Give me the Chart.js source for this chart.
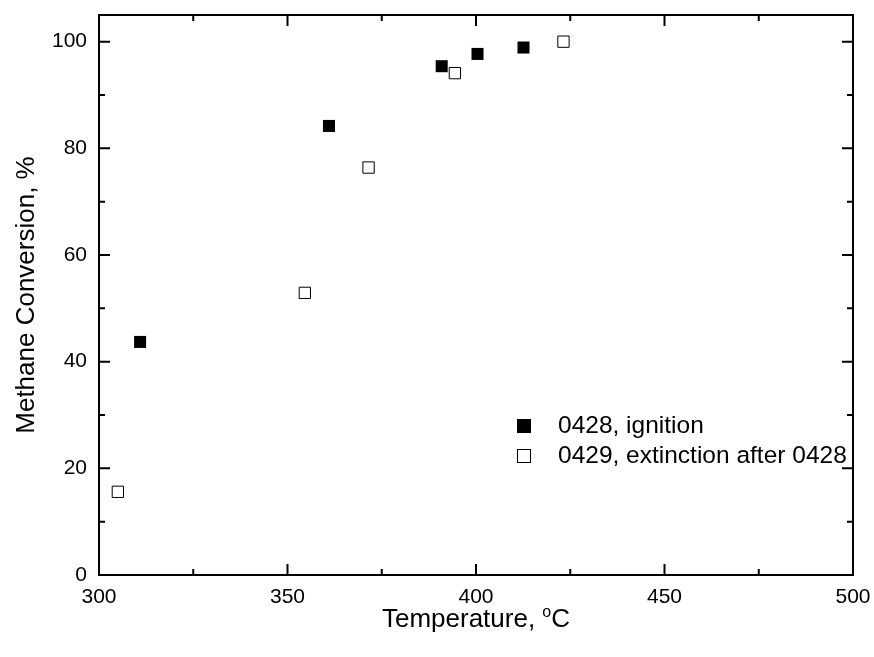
<!DOCTYPE html>
<html><head><meta charset="utf-8">
<script src="https://cdn.jsdelivr.net/npm/chart.js@4"></script>
<style>html,body{margin:0;padding:0;background:#fff}#wrap{width:874px;height:657px;position:relative}</style>
</head><body><div id="wrap"><canvas id="c"></canvas></div>
<script>
// ---- data ----
const ignitionTemp = [310.9, 361.0, 390.9, 400.4, 412.6];
const ignitionConv = [43.7, 84.2, 95.4, 97.7, 98.9];
const extinctionTemp = [305.0, 354.6, 371.5, 394.4, 423.2];
const extinctionConv = [15.6, 52.9, 76.4, 94.1, 100.0];
const seriesLabels = ['0428, ignition', '0429, extinction after 0428'];
const xTickValues = [300, 350, 400, 450, 500];
const yTickValues = [0, 20, 40, 60, 80, 100];
const xTitleMain = 'Temperature, ';
const xTitleSup = 'o';
const xTitleEnd = 'C';
const yTitle = 'Methane Conversion, %';

const FONT = '"Liberation Sans", Arial, Helvetica, sans-serif';

const toPts = (xs, ys) => xs.map((x, i) => ({x: x, y: ys[i]}));

const framePlugin = {
  id: 'frame',
  afterDraw(chart) {
    const ctx = chart.ctx;
    const a = chart.chartArea;
    const xs = chart.scales.x, ys = chart.scales.y;
    ctx.save();
    ctx.strokeStyle = '#000';
    ctx.lineWidth = 2;
    ctx.strokeRect(a.left, a.top, a.right - a.left, a.bottom - a.top);
    const major = 11, minor = 6;
    ctx.beginPath();
    for (let i = 0; i < xTickValues.length; i++) {
      const v = xTickValues[i];
      const px = xs.getPixelForValue(v);
      ctx.moveTo(px, a.bottom); ctx.lineTo(px, a.bottom - major);
      ctx.moveTo(px, a.top); ctx.lineTo(px, a.top + major);
      if (i < xTickValues.length - 1) {
        const m = xs.getPixelForValue((v + xTickValues[i + 1]) / 2);
        ctx.moveTo(m, a.bottom); ctx.lineTo(m, a.bottom - minor);
        ctx.moveTo(m, a.top); ctx.lineTo(m, a.top + minor);
      }
    }
    for (let i = 0; i < yTickValues.length; i++) {
      const v = yTickValues[i];
      const py = ys.getPixelForValue(v);
      ctx.moveTo(a.left, py); ctx.lineTo(a.left + major, py);
      ctx.moveTo(a.right, py); ctx.lineTo(a.right - major, py);
      if (i < yTickValues.length - 1) {
        const m = ys.getPixelForValue((v + yTickValues[i + 1]) / 2);
        ctx.moveTo(a.left, m); ctx.lineTo(a.left + minor, m);
        ctx.moveTo(a.right, m); ctx.lineTo(a.right - minor, m);
      }
    }
    ctx.stroke();

    // axis titles
    ctx.fillStyle = '#000';
    ctx.textBaseline = 'alphabetic';
    const tf = '26px ' + FONT, sf = '16px ' + FONT;
    ctx.font = tf;
    const w1 = ctx.measureText(xTitleMain).width;
    const w3 = ctx.measureText(xTitleEnd).width;
    ctx.font = sf;
    const w2 = ctx.measureText(xTitleSup).width;
    const total = w1 + w2 + w3;
    const cx = (a.left + a.right) / 2;
    const x0 = cx - total / 2;
    const by = 627;
    ctx.textAlign = 'left';
    ctx.font = tf; ctx.fillText(xTitleMain, x0, by);
    ctx.font = sf; ctx.fillText(xTitleSup, x0 + w1, by - 10);
    ctx.font = tf; ctx.fillText(xTitleEnd, x0 + w1 + w2, by);

    ctx.save();
    ctx.translate(27, (a.top + a.bottom) / 2);
    ctx.rotate(-Math.PI / 2);
    ctx.textAlign = 'center';
    ctx.textBaseline = 'middle';
    ctx.font = tf;
    ctx.fillText(yTitle, 0, 0);
    ctx.restore();

    // legend
    const lx = 524, ly = [426, 456], tx = 558;
    ctx.font = '24.5px ' + FONT;
    ctx.textAlign = 'left';
    ctx.textBaseline = 'middle';
    ctx.fillStyle = '#000';
    ctx.fillRect(lx - 7, ly[0] - 7, 14, 14);
    ctx.fillText(seriesLabels[0], tx, ly[0]);
    ctx.lineWidth = 1;
    ctx.fillStyle = '#fff';
    ctx.fillRect(lx - 6.5, ly[1] - 6.5, 13, 13);
    ctx.strokeRect(lx - 6.5, ly[1] - 6.5, 13, 13);
    ctx.fillStyle = '#000';
    ctx.fillText(seriesLabels[1], tx, ly[1]);
    ctx.restore();
  }
};

const zeroPad = s => { s.paddingLeft = 0; s.paddingRight = 0; s.paddingTop = 0; s.paddingBottom = 0; };

new Chart(document.getElementById('c'), {
  type: 'scatter',
  data: {
    datasets: [
      {
        label: seriesLabels[0],
        data: toPts(ignitionTemp, ignitionConv),
        pointStyle: 'rect',
        pointRadius: 8.5,
        backgroundColor: '#000',
        borderColor: '#000',
        borderWidth: 0,
        showLine: false
      },
      {
        label: seriesLabels[1],
        data: toPts(extinctionTemp, extinctionConv),
        pointStyle: 'rect',
        pointRadius: 8,
        backgroundColor: '#fff',
        borderColor: '#000',
        borderWidth: 1,
        showLine: false
      }
    ]
  },
  options: {
    responsive: true,
    maintainAspectRatio: false,
    animation: false,
    layout: {padding: {left: 0, top: 15, right: 21, bottom: 0}},
    plugins: {legend: {display: false}, tooltip: {enabled: false}},
    scales: {
      x: {
        type: 'linear', min: 300, max: 500,
        grid: {display: false, drawTicks: false},
        border: {display: false},
        ticks: {color: '#000', font: {size: 21, family: FONT}, padding: 10, maxRotation: 0},
        afterBuildTicks: s => { s.ticks = xTickValues.map(v => ({value: v})); },
        afterFit: s => { s.height = 82; zeroPad(s); }
      },
      y: {
        type: 'linear', min: 0, max: 105,
        grid: {display: false, drawTicks: false},
        border: {display: false},
        ticks: {color: '#000', font: {size: 21, family: FONT}, padding: 12},
        afterBuildTicks: s => { s.ticks = yTickValues.map(v => ({value: v})); },
        afterFit: s => { s.width = 99; zeroPad(s); }
      }
    }
  },
  plugins: [framePlugin]
});
</script>
</body></html>
